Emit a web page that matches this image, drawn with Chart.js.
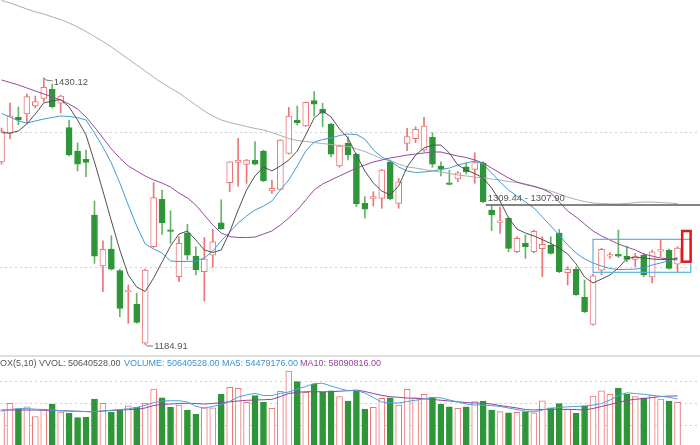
<!DOCTYPE html>
<html>
<head>
<meta charset="utf-8">
<script src="https://cdn.jsdelivr.net/npm/chart.js@4.4.1/dist/chart.umd.min.js"></script>
<style>
  html, body { margin: 0; padding: 0; background: #fff; overflow: hidden; }
  #wrap { position: relative; width: 700px; height: 445px; font-family: "Liberation Sans", Arial, sans-serif; }
  #kbox { position: absolute; left: 0; top: 0; width: 700px; height: 355px; }
  #sep  { position: absolute; left: 0; top: 355px; width: 700px; height: 2px; background: #dedede; }
  #vbox { position: absolute; left: 0; top: 357px; width: 700px; height: 88px; }
  .hd { position: absolute; top: 359px; font-size: 9px; line-height: 9px; white-space: nowrap; }
</style>
</head>
<body>
<div id="wrap">
  <div id="kbox"><canvas id="kChart"></canvas></div>
  <div id="sep"></div>
  <div id="vbox"><canvas id="vChart"></canvas></div>
  <span class="hd" style="left:0;color:#555">OX(5,10) VVOL: 50640528.00</span>
  <span class="hd" style="left:124px;color:#3d93d4">VOLUME: 50640528.00</span>
  <span class="hd" style="left:222px;color:#3d93d4">MA5: 54479176.00</span>
  <span class="hd" style="left:300px;color:#93449a">MA10: 58090816.00</span>
</div>
<script>
// daily candles (index 0 = leftmost, partly cut)
const opens = [1352.7,1379.1,1393.9,1396.9,1404.3,1411.4,1419.7,1406.8,1384.3,1362.8,
  1355.2,1303.8,1256.8,1272.5,1252.5,1232.9,1221.5,1185.6,1274.6,1318.3,
  1290.0,1246.9,1287.5,1265.7,1251.7,1266.9,1296.7,1333.6,1352.4,1350.5,
  1354.5,1362.8,1326.0,1327.5,1360.7,1391.4,1385.9,1409.2,1401.3,1387.7,
  1349.0,1369.9,1360.0,1314.6,1319.2,1319.2,1352.9,1314.6,1369.9,1374.3,
  1363.7,1375.4,1349.0,1333.6,1337.2,1348.3,1345.9,1352.0,1308.4,1297.1,
  1300.8,1270.0,1277.7,1270.0,1272.7,1275.9,1287.2,1250.6,1253.8,1228.2,
  1202.9,1253.1,1266.0,1267.6,1266.0,1263.0,1266.9,1246.7,1270.6,1271.6,1258.6];
const highs = [1384.0,1407.1,1403.4,1415.4,1413.5,1430.12,1424.6,1414.4,1391.4,1370.2,
  1363.7,1316.7,1280.1,1284.8,1253.8,1239.3,1231.9,1254.0,1333.6,1326.9,
  1307.8,1283.8,1295.2,1274.6,1283.1,1290.6,1317.9,1353.0,1374.5,1355.2,
  1371.4,1363.7,1336.1,1373.2,1403.1,1404.3,1408.0,1417.5,1406.8,1388.3,
  1368.3,1376.0,1360.6,1320.7,1325.3,1345.9,1354.5,1337.6,1383.7,1385.2,
  1393.9,1379.7,1352.9,1345.0,1343.7,1352.0,1361.2,1352.9,1312.1,1311.2,
  1301.7,1283.8,1285.4,1290.0,1283.8,1283.8,1290.6,1256.2,1255.9,1243.9,
  1249.4,1273.1,1269.1,1290.0,1275.2,1268.5,1268.5,1271.6,1281.4,1272.5,1274.6];
const lows = [1350.8,1373.9,1386.8,1388.6,1402.5,1408.3,1402.5,1397.8,1358.2,1344.4,
  1339.1,1259.3,1233.1,1253.1,1210.1,1204.0,1204.0,1184.91,1274.0,1286.0,
  1277.7,1242.3,1262.4,1248.5,1224.5,1255.6,1290.6,1325.3,1330.5,1333.0,
  1349.9,1334.5,1323.8,1327.0,1360.0,1386.8,1385.3,1395.1,1385.2,1357.6,
  1347.8,1354.5,1311.5,1300.8,1312.1,1310.0,1317.7,1310.0,1363.1,1370.5,
  1362.5,1347.8,1339.8,1331.5,1334.5,1341.6,1333.0,1315.2,1289.5,1286.9,
  1270.0,1269.1,1263.9,1268.8,1246.9,1267.9,1250.6,1239.3,1229.6,1213.8,
  1202.4,1248.5,1263.9,1264.8,1260.8,1256.2,1246.9,1241.1,1265.4,1254.0,1251.5];
const closes = [1381.3,1395.3,1391.4,1412.9,1408.3,1421.5,1403.7,1413.5,1359.1,1350.8,
  1352.4,1266.0,1272.2,1253.8,1217.8,1233.8,1204.9,1253.1,1319.8,1296.7,
  1288.8,1277.7,1266.9,1253.4,1263.3,1279.2,1290.9,1352.9,1354.5,1354.5,
  1350.8,1335.4,1328.4,1372.9,1395.1,1388.9,1407.7,1406.1,1397.6,1360.0,
  1367.4,1359.1,1314.0,1309.3,1320.7,1345.3,1318.6,1334.5,1376.2,1382.8,
  1385.9,1350.8,1346.2,1332.1,1342.8,1343.7,1352.2,1316.1,1303.8,1298.3,
  1273.1,1282.3,1274.6,1288.9,1276.9,1268.5,1251.5,1253.8,1230.5,1214.7,
  1247.8,1272.2,1267.2,1266.0,1263.0,1265.4,1248.5,1270.0,1271.6,1254.7,1273.4];

// moving-average lines as drawn
const ma5 = [1379.7,1379.4,1381.3,1387.7,1396.9,1407.1,1408.9,1410.3,1403.4,1391.4,
  1377.6,1352.7,1325.9,1298.3,1271.6,1248.5,1237.4,1233.3,1245.7,1260.5,
  1275.2,1286.3,1289.1,1280.8,1271.6,1269.3,1271.6,1288.1,1308.4,1326.9,
  1339.8,1348.1,1344.4,1349.0,1354.5,1362.8,1377.6,1393.2,1399.7,1394.2,
  1383.1,1374.8,1359.1,1344.4,1333.3,1325.9,1322.3,1330.6,1348.1,1359.1,
  1365.6,1368.3,1368.3,1361.0,1349.9,1345.3,1342.1,1337.9,1328.7,1316.7,
  1301.1,1290.9,1287.2,1284.5,1281.2,1277.6,1273.4,1267.9,1258.7,1246.7,
  1241.1,1244.8,1248.5,1255.0,1263.7,1265.1,1264.2,1263.3,1262.8,1262.8,1263.7];
const ma10 = [1397.4,1394.2,1390.5,1388.6,1390.5,1392.3,1393.7,1395.1,1394.6,1393.7,
  1391.4,1379.4,1366.5,1351.8,1333.3,1313.0,1293.7,1277.1,1272.5,1268.8,
  1261.4,1261.0,1261.0,1261.4,1264.2,1270.6,1279.9,1288.1,1296.4,1302.9,
  1308.4,1312.1,1316.7,1326.9,1336.1,1349.0,1362.8,1371.1,1373.4,1374.8,
  1377.1,1378.5,1378.0,1373.9,1363.7,1357.3,1353.6,1348.1,1344.4,1343.0,
  1343.5,1344.4,1345.8,1347.1,1349.9,1351.8,1353.6,1350.8,1342.5,1334.2,
  1326.9,1321.3,1315.8,1310.3,1302.0,1293.7,1285.4,1276.2,1268.8,1263.3,
  1259.6,1256.8,1254.5,1253.6,1253.6,1254.0,1255.0,1257.7,1259.6,1261.9,1264.6];
const ma20 = [1428.3,1426.0,1423.7,1420.9,1418.1,1415.4,1412.6,1409.8,1406.1,1401.5,
  1394.2,1384.9,1374.8,1364.7,1356.4,1349.0,1344.4,1339.8,1336.1,1333.3,
  1329.6,1324.1,1319.5,1313.0,1303.8,1294.6,1287.2,1284.0,1283.1,1283.1,
  1283.5,1286.3,1289.1,1294.6,1301.1,1308.4,1317.6,1326.9,1332.4,1336.1,
  1339.8,1343.5,1347.1,1349.9,1352.7,1354.5,1356.4,1357.7,1359.1,1360.0,
  1361.0,1361.9,1361.9,1360.0,1358.2,1356.8,1354.5,1351.8,1347.1,1342.5,
  1337.9,1334.2,1331.9,1330.1,1327.8,1324.1,1315.8,1307.5,1302.0,1295.5,
  1289.1,1284.5,1280.8,1277.1,1274.3,1271.6,1267.9,1266.0,1264.2,1263.3,1262.4];
const ma60 = [1501.6,1499.3,1496.5,1493.7,1491.0,1489.1,1486.4,1484.0,1480.8,1477.1,
  1473.0,1468.4,1463.8,1458.7,1453.2,1447.6,1442.1,1436.6,1431.0,1425.5,
  1420.9,1416.3,1410.7,1405.2,1399.7,1395.1,1391.4,1389.1,1387.2,1385.4,
  1383.6,1382.2,1379.9,1377.1,1374.3,1372.5,1371.6,1370.6,1369.7,1368.8,
  1367.9,1367.0,1364.7,1362.4,1359.1,1355.4,1354.1,1350.8,1348.1,1347.1,
  1345.8,1344.4,1343.5,1342.1,1340.7,1339.8,1338.8,1337.9,1337.0,1336.1,
  1334.7,1333.8,1332.4,1330.6,1328.2,1325.9,1323.2,1320.4,1318.1,1316.3,
  1314.9,1314.4,1314.0,1314.0,1314.4,1315.3,1315.8,1315.8,1315.3,1314.9,1314.4];

// volume in millions of shares
const vol = [40.7,49.5,42.7,45.4,33.6,42.3,48.6,39.1,37.6,32.4,
  32.9,54.6,49.5,38.8,41.5,46.6,44.7,49.5,66.4,56.1,
  44.7,47.4,41.5,36.4,44.2,44.2,60.1,68.4,67.2,50.6,
  58.5,50.6,43.5,63.7,87.8,75.1,62.5,72.3,62.5,64.4,
  57.3,52.2,64.0,42.7,44.7,55.4,56.1,47.4,66.1,56.1,
  60.1,56.6,48.3,45.4,43.5,45.4,51.4,52.2,41.5,39.5,
  38.3,38.8,39.5,38.3,52.5,44.2,49.0,42.3,37.6,46.6,
  58.1,64.4,60.5,67.6,60.1,57.3,56.1,59.3,54.6,52.2,50.6];
const volMa5 = [40.9,42.1,43.3,43.1,42.5,42.1,41.5,40.7,40.3,40.0,
  39.7,39.5,40.3,41.3,42.1,42.9,44.5,47.1,50.2,52.2,
  52.5,52.5,51.0,45.9,43.9,45.7,48.3,51.6,56.9,59.3,
  61.3,58.7,58.7,61.3,62.9,66.4,69.4,72.9,73.2,70.0,
  67.0,64.4,64.6,61.7,56.3,51.0,50.2,49.8,51.6,53.1,
  54.6,56.3,56.0,53.4,51.0,48.6,47.4,47.4,46.8,45.7,
  43.9,42.1,40.0,39.1,41.5,43.5,44.5,45.3,45.7,46.3,
  47.4,49.2,53.4,58.7,61.9,61.1,60.1,58.9,57.8,56.6,54.5];
const volMa10 = [41.5,41.5,41.5,41.5,41.5,41.2,40.9,40.7,40.3,40.0,
  39.6,39.5,40.3,40.9,41.5,41.9,42.2,43.9,46.8,48.3,
  48.6,49.2,49.5,49.2,48.6,49.2,50.2,51.2,52.2,53.0,
  53.4,53.7,54.2,57.5,61.1,62.5,63.2,63.2,63.2,63.2,
  63.8,64.4,65.2,63.5,61.1,58.9,57.3,56.6,55.7,55.4,
  54.8,54.0,53.1,52.2,51.2,50.4,49.8,49.5,48.6,46.8,
  45.4,43.9,42.1,41.5,42.1,42.3,42.3,42.3,42.0,41.5,
  43.3,45.7,48.0,50.4,53.0,54.2,55.1,56.3,57.5,58.1,58.1];

// dotted grid levels
const priceGrid = [1255.0, 1380.3];
const volGrid = [23.7, 49.8, 75.9];

// drawn marks on the price panel
const highMark = { i: 5, price: 1430.12, text: '1430.12' };
const lowMark = { i: 17, price: 1184.91, text: '1184.91' };
const levelLine = { from: 57.3, price: 1313.0, text: '1309.44 - 1307.90' };
const blueBox = { x0: 70, x1: 81.56, lo: 1251.0, hi: 1281.4 };
const redBox = { x0: 80.55, x1: 81.55, lo: 1260.8, hi: 1289.1 };

const RED = '#ec7676', GREEN = '#2e9638', GREEN_WICK = '#64b564';
const idx = opens.map((_, i) => i);
const up = opens.map((o, i) => closes[i] >= o);
const xRange = { min: -0.18, max: 82.66 };

const gridAxis = (min, max, levels) => ({
  min, max, position: 'right',
  ticks: { display: false },
  grid: { color: '#cfcfcf', lineWidth: 1, drawTicks: false },
  border: { display: false, dash: [2, 3] },
  afterBuildTicks: axis => { axis.ticks = levels.map(v => ({ value: v })); }
});

const lineSet = (data, color, order) => ({
  type: 'line', data, borderColor: color, borderWidth: 1,
  pointRadius: 0, fill: false, tension: 0, order
});

const marks = {
  id: 'marks',
  afterDatasetsDraw(chart) {
    const { ctx, scales: { x, y }, chartArea } = chart;
    ctx.save();
    ctx.font = '9.5px "Liberation Sans", Arial, sans-serif';
    ctx.fillStyle = '#555';
    ctx.strokeStyle = '#777';
    ctx.lineWidth = 1;
    ctx.textBaseline = 'middle';

    let px = x.getPixelForValue(highMark.i), py = y.getPixelForValue(highMark.price);
    ctx.beginPath();
    ctx.moveTo(px, py); ctx.lineTo(px + 2, py + 2); ctx.lineTo(px + 9, py + 3);
    ctx.stroke();
    ctx.fillText(highMark.text, px + 10, py + 4);

    px = x.getPixelForValue(lowMark.i); py = y.getPixelForValue(lowMark.price);
    ctx.beginPath();
    ctx.moveTo(px, py); ctx.lineTo(px + 2, py + 2); ctx.lineTo(px + 8, py + 2);
    ctx.stroke();
    ctx.fillText(lowMark.text, px + 9, py + 2);

    // level line
    const lx = x.getPixelForValue(levelLine.from), ly = y.getPixelForValue(levelLine.price);
    ctx.strokeStyle = '#5a5a5a';
    ctx.lineWidth = 1.5;
    ctx.beginPath();
    ctx.moveTo(lx, ly); ctx.lineTo(chartArea.right, ly);
    ctx.stroke();
    ctx.fillText(levelLine.text, lx + 2, ly - 7);

    const box = (b, color, w) => {
      const x0 = x.getPixelForValue(b.x0), x1 = x.getPixelForValue(b.x1);
      const y0 = y.getPixelForValue(b.hi), y1 = y.getPixelForValue(b.lo);
      ctx.strokeStyle = color;
      ctx.lineWidth = w;
      ctx.strokeRect(x0, y0, x1 - x0, y1 - y0);
    };
    box(blueBox, '#5fb0e4', 1.2);
    box(redBox, '#e01818', 2.5);
    ctx.restore();
  }
};

const baseOpts = (yAxis) => ({
  responsive: true,
  maintainAspectRatio: false,
  animation: false,
  layout: { padding: 0 },
  plugins: { legend: { display: false }, tooltip: { enabled: false } },
  scales: {
    x: { type: 'linear', min: xRange.min, max: xRange.max, offset: false, display: false },
    y: yAxis
  }
});

new Chart(document.getElementById('kChart'), {
  type: 'bar',
  data: {
    labels: idx,
    datasets: [
      lineSet(ma5, '#505050', 0),
      lineSet(ma10, '#3d9bdb', 0),
      lineSet(ma20, '#98489e', 0),
      lineSet(ma60, '#adadad', 1),
      {
        type: 'bar', data: opens.map((o, i) => [o, closes[i]]),
        barThickness: 6, grouped: false, order: 2,
        backgroundColor: up.map(u => u ? '#ffffff' : GREEN),
        borderColor: up.map(u => u ? RED : GREEN),
        borderWidth: 1, borderSkipped: false, minBarLength: 1.5
      },
      {
        type: 'bar', data: lows.map((l, i) => [l, highs[i]]),
        barThickness: 1, grouped: false, order: 3,
        backgroundColor: up.map(u => u ? RED : GREEN_WICK),
        borderWidth: 0
      }
    ]
  },
  options: baseOpts(gridAxis(1174.8, 1502.0, priceGrid)),
  plugins: [marks]
});

new Chart(document.getElementById('vChart'), {
  type: 'bar',
  data: {
    labels: idx,
    datasets: [
      lineSet(volMa5, '#4aa2de', 0),
      lineSet(volMa10, '#93449a', 0),
      {
        type: 'bar', data: vol, barThickness: 6, grouped: false, order: 2,
        backgroundColor: up.map(u => u ? '#ffffff' : GREEN),
        borderColor: up.map(u => u ? RED : GREEN),
        borderWidth: 1
      }
    ]
  },
  options: baseOpts(gridAxis(0, 104.4, volGrid))
});
</script>
</body>
</html>
